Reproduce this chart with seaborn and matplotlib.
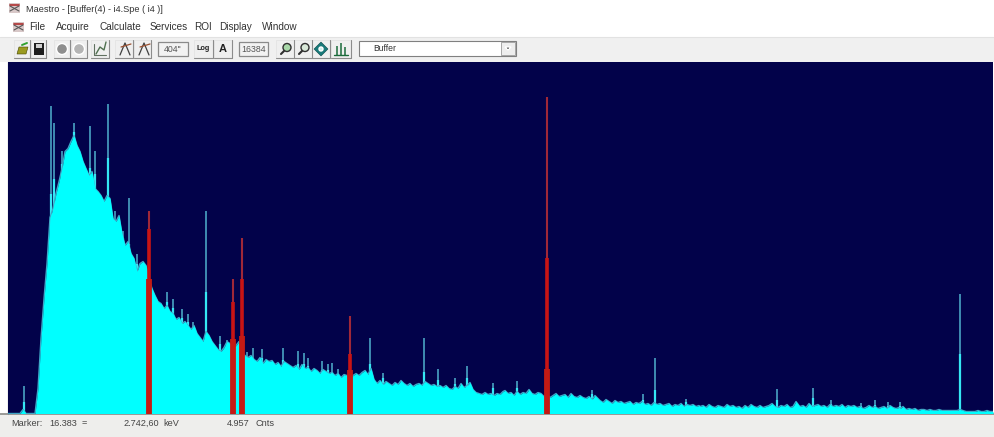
import numpy as np
import pandas as pd
import seaborn as sns
import matplotlib
matplotlib.use("Agg")
import matplotlib.pyplot as plt
from matplotlib.patches import Rectangle, Circle, Polygon

# ---- data: spectrum (display bin, height in display counts)
seg_starts = [8, 38, 182, 212, 248, 338, 505, 600, 700, 800, 900]
seg_values = [
    [0, 0, 0, 0, 0, 4, 0, 0, 0, 0],
    [25, 75, 115, 150, 196, 205, 220, 232, 245, 262, 265, 272, 278, 268, 262, 252, 245, 238, 242, 225,
     222, 218, 212, 218, 215, 195, 192, 198, 180, 168, 172, 160, 155, 142, 150, 152, 148, 135, 125, 118,
     112, 110, 105, 108, 102, 100, 94, 96],
    [90, 92, 88, 84, 88, 80, 76, 72, 82, 78],
    [72, 68, 64, 62, 66, 72, 70, 66, 68, 72, 62, 58],
    [56, 58, 54, 52, 56, 50, 54, 52, 53, 49, 51, 47, 52, 50, 48, 46, 48, 44, 49, 45,
     46, 42, 45, 43, 40, 44, 42, 40, 41, 38],
    [40, 36, 39, 38, 36, 38, 40, 38, 41, 43, 39, 45, 34, 30, 33, 29, 32, 30, 28, 31,
     29, 33, 30, 28, 30, 27, 29, 30, 28, 32, 30, 28, 29, 27, 28, 26, 28, 25, 24, 27,
     25, 30, 26, 28, 31, 24, 21, 20, 19, 21, 19, 20, 18, 20, 19, 22],
    [23, 20, 21, 18, 22, 19, 21, 20, 24, 20, 19, 21, 20, 17, 19, 16, 18, 20, 17, 18,
     19, 16, 20, 17, 16, 18, 16, 15, 17, 14, 18, 15],
    [13, 11, 14, 12, 10, 13, 11, 12, 10, 11, 12, 9, 11, 10, 12, 9, 10, 8, 11, 9,
     10, 8, 9, 10, 7, 9, 8, 10, 7, 9, 8, 9, 7, 8],
    [7, 8, 6, 9, 7, 6, 8, 7, 6, 9, 7, 8, 6, 7, 5, 8, 6, 9, 7, 6,
     8, 6, 7, 8, 10, 7, 6, 8, 7, 9, 6, 7, 12, 8],
    [7, 8, 6, 10, 7, 8, 9, 7, 8, 6, 9, 7, 8, 7, 9, 6, 8, 7, 8, 6,
     7, 5, 6, 8, 6, 7, 5, 6, 7, 5, 8, 6, 5, 6],
    [5, 7, 4, 5, 4, 5, 3, 4, 4, 3, 4, 3, 3, 4, 3, 3, 3, 3, 3, 3,
     4, 3, 2, 2, 2, 2, 3, 2, 2, 3, 2, 2],
]
peak_bins = [24, 51, 54, 62, 74, 90, 95, 108, 115, 119, 123, 129, 137, 167, 173, 182, 188, 193, 206, 220, 227,
             247, 253, 262, 283, 298, 304, 308, 322, 328, 332, 338, 370, 383, 424, 438, 455, 467, 493, 517, 592,
             643, 655, 686, 777, 813, 831, 861, 875, 888, 900, 960]
peak_heights = [28, 308, 291, 263, 291, 288, 263, 310, 203, 195, 183, 216, 160, 122, 115, 105, 100, 92, 203, 78, 74,
                62, 66, 65, 66, 63, 61, 56, 53, 50, 51, 45, 76, 41, 76, 45, 36, 48, 31, 33, 24,
                20, 56, 15, 25, 26, 14, 11, 14, 12, 12, 120]
peak_solid = [12, 220, 235, 250, 282, 246, 240, 256, 190, 185, 176, 170, 150, 112, 106, 96, 92, 84, 122, 70, 68,
              56, 56, 56, 54, 50, 50, 48, 44, 44, 42, 40, 50, 36, 42, 34, 30, 36, 26, 26, 20,
              14, 24, 12, 14, 16, 10, 8, 9, 8, 8, 60]
roi_bins = [149, 233, 242, 350, 547]
roi_top = [203, 135, 176, 98, 317]
roi_mid = [185, 112, 135, 60, 156]
roi_base = [135, 75, 78, 44, 45]

menu_items = ["File", "Acquire", "Calculate", "Services", "ROI", "Display", "Window"]
menu_x = [29, 56, 100, 150, 194, 219, 262]
title_text = "Maestro - [Buffer(4) - i4.Spe ( i4 )]"
status_items = ["Marker:", "16.383", "=", "2.742,60", "keV", "4.957", "Cnts"]
status_x = [11, 49, 82, 123, 163, 227, 256]

W, H = 994, 437
NAVY = "#02024a"
CYAN = "#00ffff"
sns.set_theme(style="white")
plt.rcParams["font.family"] = ["Liberation Sans", "DejaVu Sans"]

fig = plt.figure(figsize=(W / 100, H / 100), dpi=100, facecolor="#ffffff")

# ---- window chrome, in screen pixels
ui = fig.add_axes([0, 0, 1, 1])
ui.set_xlim(0, W)
ui.set_ylim(H, 0)
ui.axis("off")

def box(x, y, w, h, fc="#f0f0f0", ec="none", lw=0.8, z=1):
    ui.add_patch(Rectangle((x, y), w, h, fc=fc, ec=ec, lw=lw, zorder=z))

box(0, 37, W, 25, fc="#f0f0f0")
box(0, 414, W, 23, fc="#eeeeec")
ui.plot([0, W], [414, 414], color="#8a8a86", lw=1.2, zorder=2)
ui.plot([8, 8], [62, 414], color="#8a8a96", lw=0.9, zorder=2)
ui.plot([0, W], [37, 37], color="#e2e2e2", lw=0.8, zorder=2)

ui.text(26, 9.5, title_text, fontsize=6.6, color="#333333", va="center")
for s, x in zip(menu_items, menu_x):
    ui.text(x, 27, s, fontsize=7.2, color="#333333", va="center")
for s, x in zip(status_items, status_x):
    ui.text(x, 423, s, fontsize=6.6, color="#444444", va="center")

# small application icons
for (x, y) in [(9, 3), (13, 22)]:
    box(x, y, 11, 10, fc="#d8c8c8")
    ui.plot([x + 1, x + 10], [y + 2, y + 2], color="#b03030", lw=1.2, zorder=3)
    ui.plot([x + 1, x + 10], [y + 8, y + 3], color="#555555", lw=0.8, zorder=3)
    ui.plot([x + 1, x + 10], [y + 3, y + 8], color="#555555", lw=0.8, zorder=3)

# toolbar buttons
for x, w in [(14, 16), (31, 15), (54, 16), (71, 16), (91, 18), (115, 18), (134, 17),
             (194, 19), (214, 18), (276, 18), (294, 18), (312, 18), (331, 20)]:
    box(x, 40, w, 18, fc="#efefef", ec="#e2e2e2", lw=0.5, z=2)
    ui.plot([x, x + w, x + w], [58, 58, 40], color="#8c8c8c", lw=0.8, zorder=3)
# open, save
ui.add_patch(Polygon([(17, 54), (19, 47), (28, 47), (26, 54)], fc="#9a9a20", ec="#444400", lw=0.4, zorder=4))
ui.plot([22, 27], [45, 43], color="#30a030", lw=1.4, zorder=4)
box(34, 43, 10, 12, fc="#1e1e1e", z=4)
box(36, 44, 6, 4, fc="#d0d0d0", z=5)
# record / stop
ui.add_patch(Circle((62, 49), 5.5, fc="#8e8e8e", zorder=4))
ui.add_patch(Circle((79, 49), 5.5, fc="#b4b4b4", zorder=4))
# spectrum-like icons
ui.plot([94, 94, 106], [44, 55, 55], color="#607060", lw=0.8, zorder=4)
ui.plot([96, 100, 104, 106], [54, 47, 50, 42], color="#507050", lw=1.0, zorder=4)
for x in (118, 137):
    ui.plot([x + 2, x + 7, x + 12], [55, 43, 55], color="#404040", lw=0.9, zorder=4)
    ui.plot([x + 3, x + 13], [47, 44], color="#9a5030", lw=0.9, zorder=4)
# value boxes
for x, w, s, fs in [(158, 30, "404\"", 6.3), (239, 29, "16384", 6.3)]:
    box(x, 42, w, 14, fc="#f2f2f2", ec="#8a8a8a", lw=0.9, z=2)
    ui.text(x + w / 2, 49.5, s, fontsize=fs, color="#555555", ha="center", va="center", zorder=4)
ui.text(203.5, 48, "Log", fontsize=5.2, fontweight="bold", color="#222222", ha="center", va="center", zorder=4)
ui.text(223, 49.5, "A", fontsize=8, fontweight="bold", color="#222222", ha="center", va="center", zorder=4)
# zoom icons, centre, peaks
for x, c in [(287, "#a8d8a8"), (305, "#d8e8d8")]:
    ui.add_patch(Circle((x, 47.5), 4, fc=c, ec="#303030", lw=1.0, zorder=4))
    ui.plot([x - 3, x - 6], [51, 54], color="#303030", lw=1.5, zorder=4)
ui.add_patch(Polygon([(321, 42), (328, 49), (321, 56), (314, 49)], fc="#1a7a7a", ec="#0a4a4a", lw=0.4, zorder=4))
ui.add_patch(Circle((321, 49), 2, fc="#d0f0f0", zorder=5))
ui.plot([334, 348], [55, 55], color="#1a6a3a", lw=1, zorder=4)
ui.vlines([337, 341, 345], [46, 43, 47], 55, color="#1a6a3a", lw=1.1, zorder=4)
# detector combo box
box(359, 41, 157, 15, fc="#ffffff", ec="#808080", lw=0.8, z=2)
ui.text(373, 48.5, "Buffer", fontsize=6.2, color="#333333", va="center", zorder=4)
box(501, 42, 14, 13, fc="#eeeeee", ec="#9a9a9a", lw=0.6, z=3)
ui.add_patch(Polygon([(505, 47), (511, 47), (508, 50)], fc="#111111", zorder=4))

# ---- spectrum panel
ax = fig.add_axes([8 / W, 1 - 413.5 / H, 985 / W, 351.5 / H], facecolor=NAVY)
bins = np.concatenate([s + 3 * np.arange(len(v)) for s, v in zip(seg_starts, seg_values)])
counts = np.concatenate(seg_values).astype(float)
df = pd.DataFrame({"bin": bins, "counts": counts})

# peak tips and shoulders sit behind the filled continuum
ax.vlines(peak_bins, 0, peak_heights, color="#4aa3c4", lw=1.2, zorder=1)
ax.vlines(peak_bins, 0, peak_solid, color="#35e8f4", lw=1.6, zorder=1.5)
sns.lineplot(data=df, x="bin", y="counts", ax=ax, color="#3fa6c6", lw=1.0,
             errorbar=None, zorder=2)
ax.fill_between(df["bin"], df["counts"], 0, color=CYAN, lw=0, zorder=3)

ax.vlines(roi_bins, 0, roi_top, color="#a02838", lw=1.5, zorder=6)
ax.vlines(roi_bins, 0, roi_mid, color="#c81414", lw=2.6, zorder=7)
ax.vlines(roi_bins, 0, roi_base, color="#c41a14", lw=4.2, zorder=8)

ax.set_xlim(8, 993)
ax.set_ylim(0, 351.5)
ax.set_xticks([])
ax.set_yticks([])
ax.set_xlabel("")
ax.set_ylabel("")
for sp in ax.spines.values():
    sp.set_visible(False)

fig.savefig("out.png", dpi=100, facecolor=fig.get_facecolor())
